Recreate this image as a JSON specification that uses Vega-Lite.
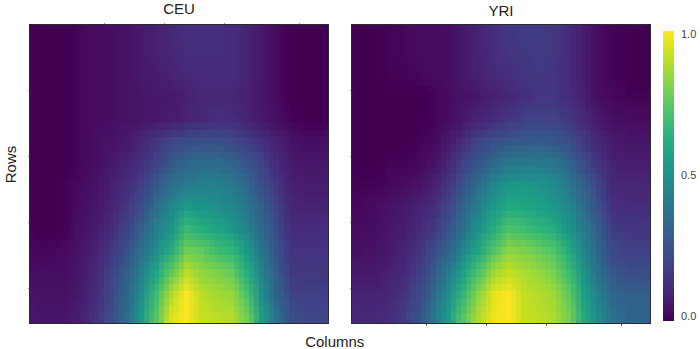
{"$schema":"https://vega.github.io/schema/vega-lite/v6.json","padding":{"left":2,"top":0,"right":0,"bottom":0},"background":"white","title":{"text":"Columns","orient":"bottom","anchor":"middle","fontSize":15,"font":"Liberation Sans","fontWeight":"normal","color":"#222","offset":1,"dx":-15},"config":{"font":"Liberation Sans","view":{"stroke":"#2a2a2a","strokeWidth":2},"title":{"fontSize":15,"fontWeight":"normal","color":"#222","offset":6},"axis":{"domain":false,"tickColor":"#333","tickSize":2,"labels":false,"grid":false}},
"datasets":{"cells":[
{"p":"CEU","r":0,"c":0,"v":0},{"p":"CEU","r":0,"c":1,"v":0},{"p":"CEU","r":0,"c":2,"v":0},{"p":"CEU","r":0,"c":3,"v":0.02},{"p":"CEU","r":0,"c":4,"v":0.03},{"p":"CEU","r":0,"c":5,"v":0.04},{"p":"CEU","r":0,"c":6,"v":0.05},{"p":"CEU","r":0,"c":7,"v":0.07},{"p":"CEU","r":0,"c":8,"v":0.09},{"p":"CEU","r":0,"c":9,"v":0.12},{"p":"CEU","r":0,"c":10,"v":0.14},{"p":"CEU","r":0,"c":11,"v":0.14},{"p":"CEU","r":0,"c":12,"v":0.14},{"p":"CEU","r":0,"c":13,"v":0.13},{"p":"CEU","r":0,"c":14,"v":0.1},{"p":"CEU","r":0,"c":15,"v":0.07},{"p":"CEU","r":0,"c":16,"v":0.03},{"p":"CEU","r":0,"c":17,"v":0},{"p":"CEU","r":0,"c":18,"v":0},{"p":"CEU","r":0,"c":19,"v":0},
{"p":"CEU","r":1,"c":0,"v":0},{"p":"CEU","r":1,"c":1,"v":0},{"p":"CEU","r":1,"c":2,"v":0},{"p":"CEU","r":1,"c":3,"v":0.02},{"p":"CEU","r":1,"c":4,"v":0.03},{"p":"CEU","r":1,"c":5,"v":0.04},{"p":"CEU","r":1,"c":6,"v":0.05},{"p":"CEU","r":1,"c":7,"v":0.07},{"p":"CEU","r":1,"c":8,"v":0.09},{"p":"CEU","r":1,"c":9,"v":0.11},{"p":"CEU","r":1,"c":10,"v":0.13},{"p":"CEU","r":1,"c":11,"v":0.14},{"p":"CEU","r":1,"c":12,"v":0.14},{"p":"CEU","r":1,"c":13,"v":0.13},{"p":"CEU","r":1,"c":14,"v":0.1},{"p":"CEU","r":1,"c":15,"v":0.07},{"p":"CEU","r":1,"c":16,"v":0.03},{"p":"CEU","r":1,"c":17,"v":0},{"p":"CEU","r":1,"c":18,"v":0},{"p":"CEU","r":1,"c":19,"v":0},
{"p":"CEU","r":2,"c":0,"v":0},{"p":"CEU","r":2,"c":1,"v":0},{"p":"CEU","r":2,"c":2,"v":0},{"p":"CEU","r":2,"c":3,"v":0.02},{"p":"CEU","r":2,"c":4,"v":0.03},{"p":"CEU","r":2,"c":5,"v":0.04},{"p":"CEU","r":2,"c":6,"v":0.05},{"p":"CEU","r":2,"c":7,"v":0.07},{"p":"CEU","r":2,"c":8,"v":0.08},{"p":"CEU","r":2,"c":9,"v":0.1},{"p":"CEU","r":2,"c":10,"v":0.12},{"p":"CEU","r":2,"c":11,"v":0.13},{"p":"CEU","r":2,"c":12,"v":0.13},{"p":"CEU","r":2,"c":13,"v":0.13},{"p":"CEU","r":2,"c":14,"v":0.1},{"p":"CEU","r":2,"c":15,"v":0.07},{"p":"CEU","r":2,"c":16,"v":0.03},{"p":"CEU","r":2,"c":17,"v":0},{"p":"CEU","r":2,"c":18,"v":0},{"p":"CEU","r":2,"c":19,"v":0},
{"p":"CEU","r":3,"c":0,"v":0},{"p":"CEU","r":3,"c":1,"v":0},{"p":"CEU","r":3,"c":2,"v":0},{"p":"CEU","r":3,"c":3,"v":0.02},{"p":"CEU","r":3,"c":4,"v":0.03},{"p":"CEU","r":3,"c":5,"v":0.04},{"p":"CEU","r":3,"c":6,"v":0.05},{"p":"CEU","r":3,"c":7,"v":0.06},{"p":"CEU","r":3,"c":8,"v":0.07},{"p":"CEU","r":3,"c":9,"v":0.07},{"p":"CEU","r":3,"c":10,"v":0.09},{"p":"CEU","r":3,"c":11,"v":0.11},{"p":"CEU","r":3,"c":12,"v":0.12},{"p":"CEU","r":3,"c":13,"v":0.11},{"p":"CEU","r":3,"c":14,"v":0.09},{"p":"CEU","r":3,"c":15,"v":0.06},{"p":"CEU","r":3,"c":16,"v":0.03},{"p":"CEU","r":3,"c":17,"v":0},{"p":"CEU","r":3,"c":18,"v":0},{"p":"CEU","r":3,"c":19,"v":0},
{"p":"CEU","r":4,"c":0,"v":0},{"p":"CEU","r":4,"c":1,"v":0},{"p":"CEU","r":4,"c":2,"v":0},{"p":"CEU","r":4,"c":3,"v":0.02},{"p":"CEU","r":4,"c":4,"v":0.03},{"p":"CEU","r":4,"c":5,"v":0.04},{"p":"CEU","r":4,"c":6,"v":0.05},{"p":"CEU","r":4,"c":7,"v":0.06},{"p":"CEU","r":4,"c":8,"v":0.07},{"p":"CEU","r":4,"c":9,"v":0.08},{"p":"CEU","r":4,"c":10,"v":0.1},{"p":"CEU","r":4,"c":11,"v":0.12},{"p":"CEU","r":4,"c":12,"v":0.14},{"p":"CEU","r":4,"c":13,"v":0.13},{"p":"CEU","r":4,"c":14,"v":0.1},{"p":"CEU","r":4,"c":15,"v":0.07},{"p":"CEU","r":4,"c":16,"v":0.04},{"p":"CEU","r":4,"c":17,"v":0.01},{"p":"CEU","r":4,"c":18,"v":0},{"p":"CEU","r":4,"c":19,"v":0},
{"p":"CEU","r":5,"c":0,"v":0},{"p":"CEU","r":5,"c":1,"v":0},{"p":"CEU","r":5,"c":2,"v":0},{"p":"CEU","r":5,"c":3,"v":0.02},{"p":"CEU","r":5,"c":4,"v":0.04},{"p":"CEU","r":5,"c":5,"v":0.05},{"p":"CEU","r":5,"c":6,"v":0.07},{"p":"CEU","r":5,"c":7,"v":0.11},{"p":"CEU","r":5,"c":8,"v":0.15},{"p":"CEU","r":5,"c":9,"v":0.2},{"p":"CEU","r":5,"c":10,"v":0.23},{"p":"CEU","r":5,"c":11,"v":0.24},{"p":"CEU","r":5,"c":12,"v":0.24},{"p":"CEU","r":5,"c":13,"v":0.22},{"p":"CEU","r":5,"c":14,"v":0.18},{"p":"CEU","r":5,"c":15,"v":0.14},{"p":"CEU","r":5,"c":16,"v":0.09},{"p":"CEU","r":5,"c":17,"v":0.05},{"p":"CEU","r":5,"c":18,"v":0.04},{"p":"CEU","r":5,"c":19,"v":0.04},
{"p":"CEU","r":6,"c":0,"v":0},{"p":"CEU","r":6,"c":1,"v":0},{"p":"CEU","r":6,"c":2,"v":0},{"p":"CEU","r":6,"c":3,"v":0.02},{"p":"CEU","r":6,"c":4,"v":0.04},{"p":"CEU","r":6,"c":5,"v":0.07},{"p":"CEU","r":6,"c":6,"v":0.1},{"p":"CEU","r":6,"c":7,"v":0.14},{"p":"CEU","r":6,"c":8,"v":0.2},{"p":"CEU","r":6,"c":9,"v":0.28},{"p":"CEU","r":6,"c":10,"v":0.33},{"p":"CEU","r":6,"c":11,"v":0.35},{"p":"CEU","r":6,"c":12,"v":0.35},{"p":"CEU","r":6,"c":13,"v":0.32},{"p":"CEU","r":6,"c":14,"v":0.27},{"p":"CEU","r":6,"c":15,"v":0.2},{"p":"CEU","r":6,"c":16,"v":0.13},{"p":"CEU","r":6,"c":17,"v":0.07},{"p":"CEU","r":6,"c":18,"v":0.06},{"p":"CEU","r":6,"c":19,"v":0.06},
{"p":"CEU","r":7,"c":0,"v":0},{"p":"CEU","r":7,"c":1,"v":0},{"p":"CEU","r":7,"c":2,"v":0.01},{"p":"CEU","r":7,"c":3,"v":0.03},{"p":"CEU","r":7,"c":4,"v":0.05},{"p":"CEU","r":7,"c":5,"v":0.09},{"p":"CEU","r":7,"c":6,"v":0.13},{"p":"CEU","r":7,"c":7,"v":0.19},{"p":"CEU","r":7,"c":8,"v":0.28},{"p":"CEU","r":7,"c":9,"v":0.37},{"p":"CEU","r":7,"c":10,"v":0.42},{"p":"CEU","r":7,"c":11,"v":0.44},{"p":"CEU","r":7,"c":12,"v":0.44},{"p":"CEU","r":7,"c":13,"v":0.41},{"p":"CEU","r":7,"c":14,"v":0.34},{"p":"CEU","r":7,"c":15,"v":0.25},{"p":"CEU","r":7,"c":16,"v":0.16},{"p":"CEU","r":7,"c":17,"v":0.09},{"p":"CEU","r":7,"c":18,"v":0.08},{"p":"CEU","r":7,"c":19,"v":0.08},
{"p":"CEU","r":8,"c":0,"v":0},{"p":"CEU","r":8,"c":1,"v":0},{"p":"CEU","r":8,"c":2,"v":0.01},{"p":"CEU","r":8,"c":3,"v":0.04},{"p":"CEU","r":8,"c":4,"v":0.06},{"p":"CEU","r":8,"c":5,"v":0.1},{"p":"CEU","r":8,"c":6,"v":0.16},{"p":"CEU","r":8,"c":7,"v":0.24},{"p":"CEU","r":8,"c":8,"v":0.36},{"p":"CEU","r":8,"c":9,"v":0.47},{"p":"CEU","r":8,"c":10,"v":0.55},{"p":"CEU","r":8,"c":11,"v":0.53},{"p":"CEU","r":8,"c":12,"v":0.5},{"p":"CEU","r":8,"c":13,"v":0.47},{"p":"CEU","r":8,"c":14,"v":0.4},{"p":"CEU","r":8,"c":15,"v":0.3},{"p":"CEU","r":8,"c":16,"v":0.2},{"p":"CEU","r":8,"c":17,"v":0.11},{"p":"CEU","r":8,"c":18,"v":0.1},{"p":"CEU","r":8,"c":19,"v":0.1},
{"p":"CEU","r":9,"c":0,"v":0},{"p":"CEU","r":9,"c":1,"v":0},{"p":"CEU","r":9,"c":2,"v":0.01},{"p":"CEU","r":9,"c":3,"v":0.05},{"p":"CEU","r":9,"c":4,"v":0.08},{"p":"CEU","r":9,"c":5,"v":0.13},{"p":"CEU","r":9,"c":6,"v":0.2},{"p":"CEU","r":9,"c":7,"v":0.3},{"p":"CEU","r":9,"c":8,"v":0.43},{"p":"CEU","r":9,"c":9,"v":0.53},{"p":"CEU","r":9,"c":10,"v":0.68},{"p":"CEU","r":9,"c":11,"v":0.63},{"p":"CEU","r":9,"c":12,"v":0.59},{"p":"CEU","r":9,"c":13,"v":0.54},{"p":"CEU","r":9,"c":14,"v":0.45},{"p":"CEU","r":9,"c":15,"v":0.34},{"p":"CEU","r":9,"c":16,"v":0.23},{"p":"CEU","r":9,"c":17,"v":0.13},{"p":"CEU","r":9,"c":18,"v":0.13},{"p":"CEU","r":9,"c":19,"v":0.13},
{"p":"CEU","r":10,"c":0,"v":0.02},{"p":"CEU","r":10,"c":1,"v":0.02},{"p":"CEU","r":10,"c":2,"v":0.03},{"p":"CEU","r":10,"c":3,"v":0.06},{"p":"CEU","r":10,"c":4,"v":0.1},{"p":"CEU","r":10,"c":5,"v":0.17},{"p":"CEU","r":10,"c":6,"v":0.25},{"p":"CEU","r":10,"c":7,"v":0.37},{"p":"CEU","r":10,"c":8,"v":0.5},{"p":"CEU","r":10,"c":9,"v":0.62},{"p":"CEU","r":10,"c":10,"v":0.78},{"p":"CEU","r":10,"c":11,"v":0.76},{"p":"CEU","r":10,"c":12,"v":0.7},{"p":"CEU","r":10,"c":13,"v":0.66},{"p":"CEU","r":10,"c":14,"v":0.55},{"p":"CEU","r":10,"c":15,"v":0.39},{"p":"CEU","r":10,"c":16,"v":0.26},{"p":"CEU","r":10,"c":17,"v":0.15},{"p":"CEU","r":10,"c":18,"v":0.15},{"p":"CEU","r":10,"c":19,"v":0.15},
{"p":"CEU","r":11,"c":0,"v":0.04},{"p":"CEU","r":11,"c":1,"v":0.04},{"p":"CEU","r":11,"c":2,"v":0.04},{"p":"CEU","r":11,"c":3,"v":0.07},{"p":"CEU","r":11,"c":4,"v":0.12},{"p":"CEU","r":11,"c":5,"v":0.2},{"p":"CEU","r":11,"c":6,"v":0.3},{"p":"CEU","r":11,"c":7,"v":0.43},{"p":"CEU","r":11,"c":8,"v":0.6},{"p":"CEU","r":11,"c":9,"v":0.76},{"p":"CEU","r":11,"c":10,"v":0.9},{"p":"CEU","r":11,"c":11,"v":0.84},{"p":"CEU","r":11,"c":12,"v":0.81},{"p":"CEU","r":11,"c":13,"v":0.77},{"p":"CEU","r":11,"c":14,"v":0.63},{"p":"CEU","r":11,"c":15,"v":0.45},{"p":"CEU","r":11,"c":16,"v":0.29},{"p":"CEU","r":11,"c":17,"v":0.17},{"p":"CEU","r":11,"c":18,"v":0.17},{"p":"CEU","r":11,"c":19,"v":0.17},
{"p":"CEU","r":12,"c":0,"v":0.05},{"p":"CEU","r":12,"c":1,"v":0.05},{"p":"CEU","r":12,"c":2,"v":0.05},{"p":"CEU","r":12,"c":3,"v":0.08},{"p":"CEU","r":12,"c":4,"v":0.13},{"p":"CEU","r":12,"c":5,"v":0.22},{"p":"CEU","r":12,"c":6,"v":0.33},{"p":"CEU","r":12,"c":7,"v":0.5},{"p":"CEU","r":12,"c":8,"v":0.69},{"p":"CEU","r":12,"c":9,"v":0.89},{"p":"CEU","r":12,"c":10,"v":1},{"p":"CEU","r":12,"c":11,"v":0.9},{"p":"CEU","r":12,"c":12,"v":0.87},{"p":"CEU","r":12,"c":13,"v":0.85},{"p":"CEU","r":12,"c":14,"v":0.72},{"p":"CEU","r":12,"c":15,"v":0.5},{"p":"CEU","r":12,"c":16,"v":0.33},{"p":"CEU","r":12,"c":17,"v":0.2},{"p":"CEU","r":12,"c":18,"v":0.19},{"p":"CEU","r":12,"c":19,"v":0.19},
{"p":"CEU","r":13,"c":0,"v":0.06},{"p":"CEU","r":13,"c":1,"v":0.06},{"p":"CEU","r":13,"c":2,"v":0.06},{"p":"CEU","r":13,"c":3,"v":0.09},{"p":"CEU","r":13,"c":4,"v":0.15},{"p":"CEU","r":13,"c":5,"v":0.24},{"p":"CEU","r":13,"c":6,"v":0.35},{"p":"CEU","r":13,"c":7,"v":0.55},{"p":"CEU","r":13,"c":8,"v":0.74},{"p":"CEU","r":13,"c":9,"v":0.95},{"p":"CEU","r":13,"c":10,"v":1},{"p":"CEU","r":13,"c":11,"v":0.92},{"p":"CEU","r":13,"c":12,"v":0.9},{"p":"CEU","r":13,"c":13,"v":0.89},{"p":"CEU","r":13,"c":14,"v":0.79},{"p":"CEU","r":13,"c":15,"v":0.56},{"p":"CEU","r":13,"c":16,"v":0.38},{"p":"CEU","r":13,"c":17,"v":0.24},{"p":"CEU","r":13,"c":18,"v":0.21},{"p":"CEU","r":13,"c":19,"v":0.21},
{"p":"YRI","r":0,"c":0,"v":0},{"p":"YRI","r":0,"c":1,"v":0},{"p":"YRI","r":0,"c":2,"v":0.01},{"p":"YRI","r":0,"c":3,"v":0.02},{"p":"YRI","r":0,"c":4,"v":0.03},{"p":"YRI","r":0,"c":5,"v":0.03},{"p":"YRI","r":0,"c":6,"v":0.04},{"p":"YRI","r":0,"c":7,"v":0.07},{"p":"YRI","r":0,"c":8,"v":0.1},{"p":"YRI","r":0,"c":9,"v":0.14},{"p":"YRI","r":0,"c":10,"v":0.17},{"p":"YRI","r":0,"c":11,"v":0.18},{"p":"YRI","r":0,"c":12,"v":0.18},{"p":"YRI","r":0,"c":13,"v":0.17},{"p":"YRI","r":0,"c":14,"v":0.13},{"p":"YRI","r":0,"c":15,"v":0.08},{"p":"YRI","r":0,"c":16,"v":0.03},{"p":"YRI","r":0,"c":17,"v":0.01},{"p":"YRI","r":0,"c":18,"v":0},{"p":"YRI","r":0,"c":19,"v":0},
{"p":"YRI","r":1,"c":0,"v":0},{"p":"YRI","r":1,"c":1,"v":0},{"p":"YRI","r":1,"c":2,"v":0.01},{"p":"YRI","r":1,"c":3,"v":0.02},{"p":"YRI","r":1,"c":4,"v":0.03},{"p":"YRI","r":1,"c":5,"v":0.03},{"p":"YRI","r":1,"c":6,"v":0.04},{"p":"YRI","r":1,"c":7,"v":0.07},{"p":"YRI","r":1,"c":8,"v":0.1},{"p":"YRI","r":1,"c":9,"v":0.13},{"p":"YRI","r":1,"c":10,"v":0.16},{"p":"YRI","r":1,"c":11,"v":0.17},{"p":"YRI","r":1,"c":12,"v":0.18},{"p":"YRI","r":1,"c":13,"v":0.17},{"p":"YRI","r":1,"c":14,"v":0.13},{"p":"YRI","r":1,"c":15,"v":0.08},{"p":"YRI","r":1,"c":16,"v":0.03},{"p":"YRI","r":1,"c":17,"v":0.01},{"p":"YRI","r":1,"c":18,"v":0},{"p":"YRI","r":1,"c":19,"v":0},
{"p":"YRI","r":2,"c":0,"v":0},{"p":"YRI","r":2,"c":1,"v":0},{"p":"YRI","r":2,"c":2,"v":0.01},{"p":"YRI","r":2,"c":3,"v":0.01},{"p":"YRI","r":2,"c":4,"v":0.02},{"p":"YRI","r":2,"c":5,"v":0.03},{"p":"YRI","r":2,"c":6,"v":0.04},{"p":"YRI","r":2,"c":7,"v":0.07},{"p":"YRI","r":2,"c":8,"v":0.09},{"p":"YRI","r":2,"c":9,"v":0.12},{"p":"YRI","r":2,"c":10,"v":0.14},{"p":"YRI","r":2,"c":11,"v":0.16},{"p":"YRI","r":2,"c":12,"v":0.17},{"p":"YRI","r":2,"c":13,"v":0.16},{"p":"YRI","r":2,"c":14,"v":0.13},{"p":"YRI","r":2,"c":15,"v":0.08},{"p":"YRI","r":2,"c":16,"v":0.03},{"p":"YRI","r":2,"c":17,"v":0.01},{"p":"YRI","r":2,"c":18,"v":0},{"p":"YRI","r":2,"c":19,"v":0},
{"p":"YRI","r":3,"c":0,"v":0},{"p":"YRI","r":3,"c":1,"v":0},{"p":"YRI","r":3,"c":2,"v":0},{"p":"YRI","r":3,"c":3,"v":0},{"p":"YRI","r":3,"c":4,"v":0},{"p":"YRI","r":3,"c":5,"v":0.01},{"p":"YRI","r":3,"c":6,"v":0.03},{"p":"YRI","r":3,"c":7,"v":0.05},{"p":"YRI","r":3,"c":8,"v":0.07},{"p":"YRI","r":3,"c":9,"v":0.09},{"p":"YRI","r":3,"c":10,"v":0.11},{"p":"YRI","r":3,"c":11,"v":0.14},{"p":"YRI","r":3,"c":12,"v":0.16},{"p":"YRI","r":3,"c":13,"v":0.16},{"p":"YRI","r":3,"c":14,"v":0.13},{"p":"YRI","r":3,"c":15,"v":0.09},{"p":"YRI","r":3,"c":16,"v":0.04},{"p":"YRI","r":3,"c":17,"v":0.02},{"p":"YRI","r":3,"c":18,"v":0.01},{"p":"YRI","r":3,"c":19,"v":0.01},
{"p":"YRI","r":4,"c":0,"v":0},{"p":"YRI","r":4,"c":1,"v":0},{"p":"YRI","r":4,"c":2,"v":0},{"p":"YRI","r":4,"c":3,"v":0},{"p":"YRI","r":4,"c":4,"v":0},{"p":"YRI","r":4,"c":5,"v":0.01},{"p":"YRI","r":4,"c":6,"v":0.03},{"p":"YRI","r":4,"c":7,"v":0.07},{"p":"YRI","r":4,"c":8,"v":0.1},{"p":"YRI","r":4,"c":9,"v":0.13},{"p":"YRI","r":4,"c":10,"v":0.16},{"p":"YRI","r":4,"c":11,"v":0.19},{"p":"YRI","r":4,"c":12,"v":0.2},{"p":"YRI","r":4,"c":13,"v":0.2},{"p":"YRI","r":4,"c":14,"v":0.17},{"p":"YRI","r":4,"c":15,"v":0.12},{"p":"YRI","r":4,"c":16,"v":0.07},{"p":"YRI","r":4,"c":17,"v":0.04},{"p":"YRI","r":4,"c":18,"v":0.03},{"p":"YRI","r":4,"c":19,"v":0.03},
{"p":"YRI","r":5,"c":0,"v":0},{"p":"YRI","r":5,"c":1,"v":0},{"p":"YRI","r":5,"c":2,"v":0},{"p":"YRI","r":5,"c":3,"v":0},{"p":"YRI","r":5,"c":4,"v":0.01},{"p":"YRI","r":5,"c":5,"v":0.02},{"p":"YRI","r":5,"c":6,"v":0.07},{"p":"YRI","r":5,"c":7,"v":0.13},{"p":"YRI","r":5,"c":8,"v":0.2},{"p":"YRI","r":5,"c":9,"v":0.24},{"p":"YRI","r":5,"c":10,"v":0.27},{"p":"YRI","r":5,"c":11,"v":0.28},{"p":"YRI","r":5,"c":12,"v":0.29},{"p":"YRI","r":5,"c":13,"v":0.28},{"p":"YRI","r":5,"c":14,"v":0.24},{"p":"YRI","r":5,"c":15,"v":0.17},{"p":"YRI","r":5,"c":16,"v":0.11},{"p":"YRI","r":5,"c":17,"v":0.07},{"p":"YRI","r":5,"c":18,"v":0.06},{"p":"YRI","r":5,"c":19,"v":0.06},
{"p":"YRI","r":6,"c":0,"v":0},{"p":"YRI","r":6,"c":1,"v":0},{"p":"YRI","r":6,"c":2,"v":0.01},{"p":"YRI","r":6,"c":3,"v":0.01},{"p":"YRI","r":6,"c":4,"v":0.02},{"p":"YRI","r":6,"c":5,"v":0.05},{"p":"YRI","r":6,"c":6,"v":0.11},{"p":"YRI","r":6,"c":7,"v":0.2},{"p":"YRI","r":6,"c":8,"v":0.27},{"p":"YRI","r":6,"c":9,"v":0.34},{"p":"YRI","r":6,"c":10,"v":0.4},{"p":"YRI","r":6,"c":11,"v":0.41},{"p":"YRI","r":6,"c":12,"v":0.41},{"p":"YRI","r":6,"c":13,"v":0.39},{"p":"YRI","r":6,"c":14,"v":0.33},{"p":"YRI","r":6,"c":15,"v":0.24},{"p":"YRI","r":6,"c":16,"v":0.15},{"p":"YRI","r":6,"c":17,"v":0.09},{"p":"YRI","r":6,"c":18,"v":0.08},{"p":"YRI","r":6,"c":19,"v":0.08},
{"p":"YRI","r":7,"c":0,"v":0.01},{"p":"YRI","r":7,"c":1,"v":0.01},{"p":"YRI","r":7,"c":2,"v":0.02},{"p":"YRI","r":7,"c":3,"v":0.03},{"p":"YRI","r":7,"c":4,"v":0.05},{"p":"YRI","r":7,"c":5,"v":0.09},{"p":"YRI","r":7,"c":6,"v":0.16},{"p":"YRI","r":7,"c":7,"v":0.26},{"p":"YRI","r":7,"c":8,"v":0.36},{"p":"YRI","r":7,"c":9,"v":0.46},{"p":"YRI","r":7,"c":10,"v":0.53},{"p":"YRI","r":7,"c":11,"v":0.54},{"p":"YRI","r":7,"c":12,"v":0.52},{"p":"YRI","r":7,"c":13,"v":0.48},{"p":"YRI","r":7,"c":14,"v":0.41},{"p":"YRI","r":7,"c":15,"v":0.31},{"p":"YRI","r":7,"c":16,"v":0.2},{"p":"YRI","r":7,"c":17,"v":0.12},{"p":"YRI","r":7,"c":18,"v":0.11},{"p":"YRI","r":7,"c":19,"v":0.11},
{"p":"YRI","r":8,"c":0,"v":0.02},{"p":"YRI","r":8,"c":1,"v":0.03},{"p":"YRI","r":8,"c":2,"v":0.05},{"p":"YRI","r":8,"c":3,"v":0.07},{"p":"YRI","r":8,"c":4,"v":0.1},{"p":"YRI","r":8,"c":5,"v":0.13},{"p":"YRI","r":8,"c":6,"v":0.21},{"p":"YRI","r":8,"c":7,"v":0.32},{"p":"YRI","r":8,"c":8,"v":0.44},{"p":"YRI","r":8,"c":9,"v":0.54},{"p":"YRI","r":8,"c":10,"v":0.61},{"p":"YRI","r":8,"c":11,"v":0.6},{"p":"YRI","r":8,"c":12,"v":0.58},{"p":"YRI","r":8,"c":13,"v":0.54},{"p":"YRI","r":8,"c":14,"v":0.47},{"p":"YRI","r":8,"c":15,"v":0.36},{"p":"YRI","r":8,"c":16,"v":0.24},{"p":"YRI","r":8,"c":17,"v":0.14},{"p":"YRI","r":8,"c":18,"v":0.13},{"p":"YRI","r":8,"c":19,"v":0.13},
{"p":"YRI","r":9,"c":0,"v":0.03},{"p":"YRI","r":9,"c":1,"v":0.04},{"p":"YRI","r":9,"c":2,"v":0.06},{"p":"YRI","r":9,"c":3,"v":0.08},{"p":"YRI","r":9,"c":4,"v":0.12},{"p":"YRI","r":9,"c":5,"v":0.17},{"p":"YRI","r":9,"c":6,"v":0.26},{"p":"YRI","r":9,"c":7,"v":0.38},{"p":"YRI","r":9,"c":8,"v":0.51},{"p":"YRI","r":9,"c":9,"v":0.62},{"p":"YRI","r":9,"c":10,"v":0.72},{"p":"YRI","r":9,"c":11,"v":0.7},{"p":"YRI","r":9,"c":12,"v":0.66},{"p":"YRI","r":9,"c":13,"v":0.62},{"p":"YRI","r":9,"c":14,"v":0.53},{"p":"YRI","r":9,"c":15,"v":0.41},{"p":"YRI","r":9,"c":16,"v":0.29},{"p":"YRI","r":9,"c":17,"v":0.18},{"p":"YRI","r":9,"c":18,"v":0.16},{"p":"YRI","r":9,"c":19,"v":0.16},
{"p":"YRI","r":10,"c":0,"v":0.04},{"p":"YRI","r":10,"c":1,"v":0.05},{"p":"YRI","r":10,"c":2,"v":0.07},{"p":"YRI","r":10,"c":3,"v":0.1},{"p":"YRI","r":10,"c":4,"v":0.15},{"p":"YRI","r":10,"c":5,"v":0.23},{"p":"YRI","r":10,"c":6,"v":0.33},{"p":"YRI","r":10,"c":7,"v":0.47},{"p":"YRI","r":10,"c":8,"v":0.6},{"p":"YRI","r":10,"c":9,"v":0.73},{"p":"YRI","r":10,"c":10,"v":0.83},{"p":"YRI","r":10,"c":11,"v":0.81},{"p":"YRI","r":10,"c":12,"v":0.77},{"p":"YRI","r":10,"c":13,"v":0.73},{"p":"YRI","r":10,"c":14,"v":0.62},{"p":"YRI","r":10,"c":15,"v":0.47},{"p":"YRI","r":10,"c":16,"v":0.33},{"p":"YRI","r":10,"c":17,"v":0.22},{"p":"YRI","r":10,"c":18,"v":0.19},{"p":"YRI","r":10,"c":19,"v":0.19},
{"p":"YRI","r":11,"c":0,"v":0.07},{"p":"YRI","r":11,"c":1,"v":0.07},{"p":"YRI","r":11,"c":2,"v":0.09},{"p":"YRI","r":11,"c":3,"v":0.12},{"p":"YRI","r":11,"c":4,"v":0.18},{"p":"YRI","r":11,"c":5,"v":0.28},{"p":"YRI","r":11,"c":6,"v":0.42},{"p":"YRI","r":11,"c":7,"v":0.58},{"p":"YRI","r":11,"c":8,"v":0.72},{"p":"YRI","r":11,"c":9,"v":0.86},{"p":"YRI","r":11,"c":10,"v":0.92},{"p":"YRI","r":11,"c":11,"v":0.88},{"p":"YRI","r":11,"c":12,"v":0.85},{"p":"YRI","r":11,"c":13,"v":0.8},{"p":"YRI","r":11,"c":14,"v":0.69},{"p":"YRI","r":11,"c":15,"v":0.53},{"p":"YRI","r":11,"c":16,"v":0.38},{"p":"YRI","r":11,"c":17,"v":0.27},{"p":"YRI","r":11,"c":18,"v":0.24},{"p":"YRI","r":11,"c":19,"v":0.24},
{"p":"YRI","r":12,"c":0,"v":0.1},{"p":"YRI","r":12,"c":1,"v":0.1},{"p":"YRI","r":12,"c":2,"v":0.11},{"p":"YRI","r":12,"c":3,"v":0.15},{"p":"YRI","r":12,"c":4,"v":0.22},{"p":"YRI","r":12,"c":5,"v":0.34},{"p":"YRI","r":12,"c":6,"v":0.5},{"p":"YRI","r":12,"c":7,"v":0.67},{"p":"YRI","r":12,"c":8,"v":0.83},{"p":"YRI","r":12,"c":9,"v":0.96},{"p":"YRI","r":12,"c":10,"v":1},{"p":"YRI","r":12,"c":11,"v":0.91},{"p":"YRI","r":12,"c":12,"v":0.89},{"p":"YRI","r":12,"c":13,"v":0.86},{"p":"YRI","r":12,"c":14,"v":0.76},{"p":"YRI","r":12,"c":15,"v":0.58},{"p":"YRI","r":12,"c":16,"v":0.44},{"p":"YRI","r":12,"c":17,"v":0.33},{"p":"YRI","r":12,"c":18,"v":0.3},{"p":"YRI","r":12,"c":19,"v":0.3},
{"p":"YRI","r":13,"c":0,"v":0.12},{"p":"YRI","r":13,"c":1,"v":0.12},{"p":"YRI","r":13,"c":2,"v":0.13},{"p":"YRI","r":13,"c":3,"v":0.18},{"p":"YRI","r":13,"c":4,"v":0.26},{"p":"YRI","r":13,"c":5,"v":0.39},{"p":"YRI","r":13,"c":6,"v":0.56},{"p":"YRI","r":13,"c":7,"v":0.74},{"p":"YRI","r":13,"c":8,"v":0.88},{"p":"YRI","r":13,"c":9,"v":0.98},{"p":"YRI","r":13,"c":10,"v":1},{"p":"YRI","r":13,"c":11,"v":0.92},{"p":"YRI","r":13,"c":12,"v":0.9},{"p":"YRI","r":13,"c":13,"v":0.88},{"p":"YRI","r":13,"c":14,"v":0.8},{"p":"YRI","r":13,"c":15,"v":0.62},{"p":"YRI","r":13,"c":16,"v":0.48},{"p":"YRI","r":13,"c":17,"v":0.37},{"p":"YRI","r":13,"c":18,"v":0.33},{"p":"YRI","r":13,"c":19,"v":0.33}
]},
"spacing":17,
"hconcat":[
{"title":"CEU","width":298,"height":298,"data":{"name":"cells"},"transform":[{"filter":"datum.p==='CEU'"}],"encoding":{"x":{"field":"c","type":"ordinal","scale":{"paddingInner":0,"paddingOuter":0,"range":[-1,299]},"axis":{"orient":"top","title":null,"values":[5,9,13,18],"bandPosition":0}},"y":{"field":"r","type":"ordinal","scale":{"paddingInner":0,"paddingOuter":0,"range":[-5,303]},"axis":{"title":"Rows","titleFontSize":15,"titleFontWeight":"normal","titleColor":"#222","titlePadding":9,"titleY":139,"values":[3,6,9,12],"bandPosition":0.2}},"color":{"field":"v","type":"quantitative","scale":{"scheme":"viridis","domain":[0,1]},"legend":{"orient":"none","legendX":633,"legendY":6,"title":null,"gradientLength":290,"gradientThickness":11,"gradientOpacity":1,"values":[0,0.5,1],"format":".1f","labelFontSize":11,"labelColor":"#444","tickCount":3,"encode":{"gradient":{"update":{"opacity":{"value":1}}},"labels":{"update":{"dx":{"value":5},"dy":{"signal":"datum.value>0.9?-2:(datum.value<0.1?1:0)"}}}}}}},
"layer":[{"mark":{"type":"rect","clip":true}},{"mark":{"type":"rect","clip":true,"xOffset":-5,"yOffset":-7,"opacity":0.5}},{"mark":{"type":"rect","clip":true,"xOffset":0,"yOffset":-7,"opacity":0.3333}},{"mark":{"type":"rect","clip":true,"xOffset":5,"yOffset":-7,"opacity":0.25}},{"mark":{"type":"rect","clip":true,"xOffset":-5,"yOffset":0,"opacity":0.2}},{"mark":{"type":"rect","clip":true,"xOffset":5,"yOffset":0,"opacity":0.1667}},{"mark":{"type":"rect","clip":true,"xOffset":-5,"yOffset":7,"opacity":0.1429}},{"mark":{"type":"rect","clip":true,"xOffset":0,"yOffset":7,"opacity":0.125}},{"mark":{"type":"rect","clip":true,"xOffset":5,"yOffset":7,"opacity":0.1111}}]},
{"title":"YRI","width":298,"height":298,"data":{"name":"cells"},"transform":[{"filter":"datum.p==='YRI'"}],"encoding":{"x":{"field":"c","type":"ordinal","scale":{"paddingInner":0,"paddingOuter":0,"range":[-1,299]},"axis":{"title":null,"values":[5,9,13,18],"bandPosition":0}},"y":{"field":"r","type":"ordinal","scale":{"paddingInner":0,"paddingOuter":0,"range":[-5,303]},"axis":{"title":null,"values":[3,6,9,12],"bandPosition":0.2}},"color":{"field":"v","type":"quantitative","scale":{"scheme":"viridis","domain":[0,1]},"legend":null}},
"layer":[{"mark":{"type":"rect","clip":true}},{"mark":{"type":"rect","clip":true,"xOffset":-5,"yOffset":-7,"opacity":0.5}},{"mark":{"type":"rect","clip":true,"xOffset":0,"yOffset":-7,"opacity":0.3333}},{"mark":{"type":"rect","clip":true,"xOffset":5,"yOffset":-7,"opacity":0.25}},{"mark":{"type":"rect","clip":true,"xOffset":-5,"yOffset":0,"opacity":0.2}},{"mark":{"type":"rect","clip":true,"xOffset":5,"yOffset":0,"opacity":0.1667}},{"mark":{"type":"rect","clip":true,"xOffset":-5,"yOffset":7,"opacity":0.1429}},{"mark":{"type":"rect","clip":true,"xOffset":0,"yOffset":7,"opacity":0.125}},{"mark":{"type":"rect","clip":true,"xOffset":5,"yOffset":7,"opacity":0.1111}}]}
]}
